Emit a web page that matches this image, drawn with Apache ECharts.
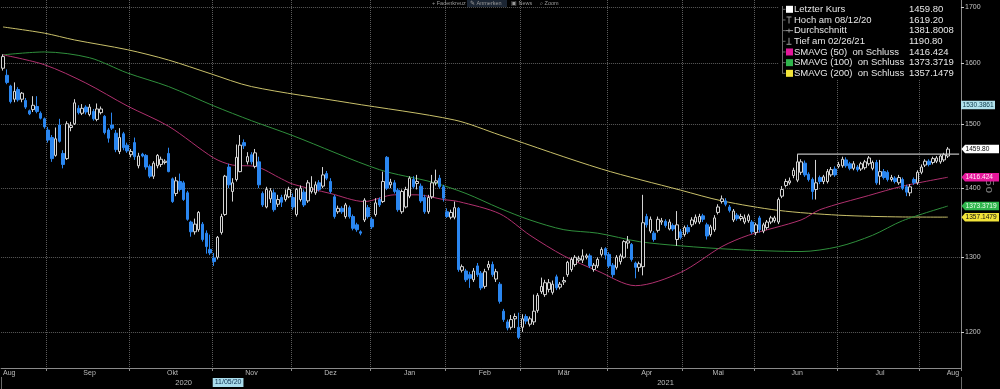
<!DOCTYPE html>
<html><head><meta charset="utf-8">
<script src="https://cdn.jsdelivr.net/npm/echarts@6/dist/echarts.min.js"></script>
<style>html,body{margin:0;padding:0;background:#000;}#c{width:1000px;height:389px;}</style>
</head><body><div id="c"></div>
<script>
// ---------- data ----------
const monthNames = ['Jan','Feb','Mär','Apr','Mai','Jun','Jul','Aug','Sep','Okt','Nov','Dez'];
const holidays = ['2020-08-31','2020-12-25','2020-12-28','2021-01-01','2021-04-02','2021-04-05','2021-05-03','2021-05-31'];
const startDate = [2020, 7, 13];
const categoryCount = 255;
const yTicks = [1200, 1300, 1400, 1500, 1600, 1700];

const opens = [
1592,1580,1562,1540,1556,1540,1538,1521,1523,1528,
1517,1508,1490,1478,1450,1498,1453,1445,1494,1500,
1525,1517,1527,1515,1520,1507,1518,1512,1490,1498,
1485,1456,1484,1466,1451,1470,1434,1452,1450,1433,
1418,1434,1436,1439,1453,1414,1392,1410,1408,1393,
1350,1336,1339,1347,1334,1311,1299,1300,1335,1361,
1432,1395,1413,1425,1470,1440,1451,1433,1440,1392,
1372,1384,1393,1376,1386,1383,1387,1386,1361,1383,
1394,1381,1395,1393,1408,1403,1422,1410,1387,1365,
1370,1358,1371,1358,1346,1336,1353,1371,1354,1361,
1383,1380,1447,1405,1408,1397,1365,1372,1388,1413,
1407,1403,1386,1365,1387,1408,1415,1402,1365,1357,
1357,1370,1282,1281,1276,1269,1288,1278,1260,1286,
1290,1270,1263,1227,1213,1206,1217,1206,1206,1220,
1210,1213,1228,1253,1249,1256,1252,1273,1259,1266,
1276,1283,1290,1296,1296,1300,1302,1283,1288,1304,
1312,1304,1289,1286,1294,1300,1320,1318,1292,1286,
1287,1358,1337,1334,1338,1350,1351,1340,1345,1325,
1336,1332,1342,1346,1350,1350,1359,1346,1332,1339,
1364,1380,1381,1372,1353,1360,1355,1350,1352,1350,
1335,1356,1337,1342,1350,1352,1350,1388,1404,1408,
1419,1412,1424,1438,1421,1413,1398,1416,1410,1410,
1420,1429,1433,1434,1443,1437,1430,1432,1429,1431,
1437,1430,1439,1418,1425,1424,1413,1415,1408,1413,
1402,1393,1413,1408,1424,1435,1441,1439,1441,1440,
1443,1449];
const closes = [
1612,1568,1536,1553,1539,1550,1527,1516,1530,1520,
1509,1495,1474,1445,1476,1472,1436,1500,1497,1534,
1518,1525,1519,1527,1508,1524,1524,1486,1477,1493,
1459,1478,1462,1457,1456,1448,1449,1449,1432,1418,
1438,1450,1444,1441,1425,1380,1411,1398,1383,1354,
1336,1347,1364,1325,1315,1306,1294,1328,1358,1418,
1405,1408,1447,1466,1465,1448,1440,1454,1405,1375,
1398,1396,1368,1383,1379,1390,1398,1372,1398,1400,
1375,1408,1401,1405,1398,1420,1415,1395,1358,1370,
1365,1375,1358,1341,1339,1334,1382,1358,1343,1378,
1375,1410,1400,1409,1395,1368,1395,1398,1415,1402,
1410,1381,1365,1386,1408,1411,1402,1385,1358,1364,
1371,1283,1287,1269,1271,1281,1276,1258,1280,1290,
1276,1280,1240,1216,1205,1216,1220,1193,1217,1214,
1217,1227,1248,1260,1265,1265,1263,1258,1263,1268,
1293,1297,1300,1298,1302,1302,1288,1289,1297,1311,
1303,1288,1276,1300,1302,1322,1323,1297,1286,1291,
1349,1346,1354,1325,1354,1352,1345,1350,1340,1346,
1328,1342,1336,1353,1357,1358,1354,1330,1343,1356,
1372,1384,1376,1367,1366,1355,1358,1356,1359,1336,
1346,1339,1346,1350,1356,1356,1383,1398,1410,1411,
1427,1440,1440,1420,1413,1395,1408,1410,1417,1425,
1428,1420,1436,1444,1434,1430,1437,1428,1437,1440,
1446,1439,1408,1425,1416,1413,1416,1410,1416,1400,
1394,1402,1408,1424,1432,1441,1436,1445,1446,1449,
1451,1459.8];
const lows = [
1588,1565,1533,1535,1536,1535,1524,1514,1519,1517,
1507,1492,1470,1440,1448,1470,1430,1443,1488,1498,
1515,1514,1515,1512,1505,1504,1515,1483,1470,1490,
1455,1452,1458,1454,1447,1443,1430,1447,1428,1415,
1414,1430,1432,1436,1424,1378,1388,1395,1381,1352,
1329,1332,1336,1322,1305,1303,1288,1297,1332,1359,
1400,1380,1410,1424,1460,1436,1436,1430,1400,1372,
1370,1378,1365,1372,1372,1380,1385,1368,1358,1380,
1372,1378,1392,1390,1395,1400,1412,1392,1355,1362,
1362,1355,1355,1338,1336,1331,1350,1355,1340,1358,
1372,1378,1397,1400,1392,1365,1362,1370,1385,1399,
1398,1378,1362,1362,1384,1404,1399,1380,1356,1354,
1354,1280,1279,1266,1258,1266,1273,1255,1257,1282,
1273,1266,1237,1213,1202,1203,1205,1190.8,1200,1210,
1207,1209,1225,1250,1246,1252,1249,1255,1256,1262,
1273,1280,1287,1293,1292,1297,1285,1280,1285,1301,
1297,1285,1272,1283,1290,1298,1312,1294,1271,1280,
1275,1342,1334,1322,1335,1346,1342,1338,1337,1316,
1325,1329,1333,1343,1347,1347,1350,1325,1329,1336,
1361,1377,1373,1364,1350,1352,1352,1347,1349,1333,
1331,1335,1334,1339,1347,1349,1347,1385,1401,1405,
1415,1409,1420,1417,1410,1383,1383,1406,1406,1407,
1417,1417,1430,1431,1431,1427,1427,1425,1426,1428,
1434,1427,1405,1405,1413,1410,1410,1407,1405,1397,
1388,1388,1405,1405,1421,1432,1433,1436,1438,1437,
1440,1446];
const highs = [
1616,1590,1564,1568,1560,1552,1542,1523,1545,1545,
1520,1510,1495,1482,1494,1508,1458,1504,1503,1540,
1530,1532,1530,1532,1524,1533,1528,1514,1493,1518,
1490,1493,1487,1470,1460,1478,1454,1454,1452,1436,
1441,1452,1448,1444,1462,1416,1417,1422,1411,1396,
1352,1355,1366,1350,1338,1332,1306,1330,1362,1420,
1437,1415,1467,1482,1475,1455,1455,1460,1448,1395,
1402,1400,1398,1390,1390,1398,1402,1392,1400,1404,
1398,1412,1418,1410,1412,1432,1426,1415,1390,1374,
1373,1378,1374,1361,1349,1338,1385,1375,1357,1385,
1386,1425,1449,1414,1412,1400,1398,1402,1418,1418,
1420,1407,1390,1390,1420,1428,1420,1405,1370,1368,
1380,1372,1290,1284,1280,1285,1292,1281,1284,1295,
1294,1284,1266,1230,1216,1222,1224,1225,1223,1223,
1220,1249,1251,1272,1269,1270,1268,1276,1266,1273,
1295,1300,1303,1302,1311,1305,1305,1292,1300,1314,
1314,1307,1292,1303,1305,1324,1330,1320,1294,1294,
1390,1362,1358,1337,1358,1356,1354,1354,1348,1366,
1340,1345,1346,1357,1361,1362,1362,1349,1346,1360,
1376,1389,1385,1375,1369,1363,1362,1361,1362,1353,
1349,1359,1349,1353,1359,1359,1386,1403,1414,1416,
1431,1452,1444,1442,1424,1416,1443,1419,1420,1429,
1432,1433,1440,1448,1447,1440,1441,1435,1440,1443,
1449,1442,1443,1443,1429,1427,1420,1418,1420,1416,
1405,1406,1416,1427,1436,1444,1444,1448,1449,1452,
1454,1463];

// moving averages: [bar index, value]
const sma50 = [[0,1615],[11,1598],[22,1567],[33,1529],[44,1496],[56,1446],[61,1435],[67,1433],[74,1414],[77,1406],[87,1392],[96,1380],[104,1390],[110,1390],[117,1383],[121,1380],[132,1362],[140,1331],[149,1302],[158,1281],[168,1261],[180,1279],[191,1315],[198,1331],[212,1353],[217,1368],[230,1389],[239,1403],[251,1416.424]];
const sma100 = [[0,1615],[11,1620],[23,1610],[33,1584],[44,1561],[56,1529],[66,1505],[77,1481],[100,1428],[114,1409],[123,1392],[132,1370],[140,1353],[149,1339],[158,1334],[169,1322],[180,1316],[194,1311],[212,1308],[222,1315],[231,1331],[239,1352],[251,1373.3719]];
const sma200 = [[0,1664],[11,1653],[19,1641],[33,1624],[44,1606],[55,1583],[66,1561],[92,1534],[120,1506],[132,1482],[159,1429],[180,1397],[191,1381],[206,1367],[222,1360],[239,1357.4],[251,1357.1479]];
const resistance = [[211,1452],[254,1452]];

const legendRows = [
  {label:'Letzter Kurs', value:'1459.80', icon:'square', color:'#ffffff'},
  {label:'Hoch am 08/12/20', value:'1619.20', icon:'high'},
  {label:'Durchschnitt', value:'1381.8008', icon:'avg'},
  {label:'Tief am 02/26/21', value:'1190.80', icon:'low'},
  {label:'SMAVG (50)  on Schluss', value:'1416.424', icon:'square', color:'#e4189b'},
  {label:'SMAVG (100)  on Schluss', value:'1373.3719', icon:'square', color:'#2fb54c'},
  {label:'SMAVG (200)  on Schluss', value:'1357.1479', icon:'square', color:'#f2e43a'}
];
const axisTags = [
  {value:1530.3861, text:'1530.3861', bg:'#b2e2ec', fg:'#0d3b4a', arrow:false},
  {value:1459.80, text:'1459.80', bg:'#ffffff', fg:'#000000', arrow:true},
  {value:1416.424, text:'1416.424', bg:'#e4189b', fg:'#ffe6f5', arrow:true},
  {value:1373.3719, text:'1373.3719', bg:'#2fb54c', fg:'#effff0', arrow:true},
  {value:1357.1479, text:'1357.1479', bg:'#f2e43a', fg:'#111111', arrow:true}
];
const crosshairDate = '2020-11-05';
const toolbarItems = ['+ Fadenkreuz', '✎ Anmerken', '▣ News', '⌕ Zoom'];

// ---------- categories ----------
function pad(n){return n<10?'0'+n:''+n;}
const dates = [];
(function(){
  const d = new Date(Date.UTC(startDate[0], startDate[1], startDate[2]));
  while (dates.length < categoryCount) {
    const wd = d.getUTCDay();
    const s = d.getUTCFullYear()+'-'+pad(d.getUTCMonth()+1)+'-'+pad(d.getUTCDate());
    if (wd !== 0 && wd !== 6 && holidays.indexOf(s) < 0) dates.push(s);
    d.setUTCDate(d.getUTCDate()+1);
  }
})();
const monthStart = new Set(), monthLabel = new Set(), yearStart = new Set(), yearLabel = new Set();
(function(){
  const groups = [], ygroups = [];
  dates.forEach((s,i)=>{
    const m = s.slice(0,7), y = s.slice(0,4);
    if (!groups.length || groups[groups.length-1].k !== m) groups.push({k:m, a:i, b:i}); else groups[groups.length-1].b = i;
    if (!ygroups.length || ygroups[ygroups.length-1].k !== y) ygroups.push({k:y, a:i, b:i}); else ygroups[ygroups.length-1].b = i;
  });
  groups.forEach(g=>{
    if (g.a > 0) monthStart.add(g.a);
    if (g.a === 0) monthLabel.add(0);
    else if (g.b === dates.length-1) monthLabel.add(g.b);
    else monthLabel.add(Math.ceil((g.a+g.b)/2));
  });
  ygroups.forEach(g=>{
    if (g.a > 0) yearStart.add(g.a);
    yearLabel.add(Math.floor((g.a+g.b)/2));
  });
})();

const candleData = opens.map((o,i)=>[o, closes[i], lows[i], highs[i]]);
const FONT = '"Liberation Sans", Arial, sans-serif';

const chart = echarts.init(document.getElementById('c'), null, {renderer:'canvas'});
const option = {
  backgroundColor:'#000',
  animation:false,
  grid:{left:-0.88, right:39, top:0, bottom:21, containLabel:false},
  xAxis:[{
    type:'category', data:dates, boundaryGap:true,
    axisLine:{show:true, lineStyle:{color:'#8a8a8a', width:1}},
    axisTick:{show:true, interval:(i)=>monthStart.has(i), length:3, lineStyle:{color:'#8a8a8a'}},
    axisLabel:{interval:(i)=>monthLabel.has(i), formatter:(v)=>monthNames[parseInt(v.slice(5,7),10)-1],
      color:'#bdbdbd', fontSize:7, fontFamily:FONT, margin:2, showMinLabel:true, showMaxLabel:true,
      alignMinLabel:'left', alignMaxLabel:'right', hideOverlap:false},
    splitLine:{show:true, interval:(i)=>monthStart.has(i), lineStyle:{color:'#5c5c5c', type:'dotted', width:1}}
  },{
    type:'category', data:dates, boundaryGap:true, position:'bottom', offset:9,
    axisLine:{show:false},
    axisTick:{show:true, interval:(i)=>yearStart.has(i), length:12, lineStyle:{color:'#6a6a6a'}},
    axisLabel:{interval:(i)=>yearLabel.has(i), formatter:(v)=>v.slice(0,4), color:'#bdbdbd', fontSize:7.5, fontFamily:FONT, margin:2, hideOverlap:false},
    splitLine:{show:false}
  }],
  yAxis:{
    type:'log', logBase:10, position:'right', min:1154.5, max:1712.8,
    axisLine:{show:true, lineStyle:{color:'#8a8a8a'}},
    axisTick:{show:true, length:3, lineStyle:{color:'#cfcfcf'}, customValues:yTicks},
    axisLabel:{color:'#c4c4c4', fontSize:7, fontFamily:FONT, margin:4, customValues:yTicks, formatter:(v)=>String(Math.round(v))},
    splitLine:{show:true, lineStyle:{color:'#5c5c5c', type:'dotted', width:1}}
  },
  series:[
    {type:'line', name:'SMA200', data:sma200, smooth:0.3, symbol:'none', lineStyle:{color:'#c9c06a', width:1}, z:2},
    {type:'line', name:'SMA100', data:sma100, smooth:0.3, symbol:'none', lineStyle:{color:'#2f8f3c', width:1}, z:2},
    {type:'line', name:'SMA50', data:sma50, smooth:0.3, symbol:'none', lineStyle:{color:'#b0306e', width:1}, z:2},
    {type:'candlestick', name:'Kurs', data:candleData, barWidth:3,
      itemStyle:{color:'#000000', color0:'#2a86f0', borderColor:'#d4d4d4', borderColor0:'#2a86f0', borderWidth:1}, z:3},
    {type:'line', name:'Linie', data:resistance, symbol:'none', lineStyle:{color:'#bdbdbd', width:1.2}, z:4}
  ]
};
chart.setOption(option);

// ---------- annotations ----------
const g = [];
// toolbar
const tbX = [432, 470, 511, 540];
g.push({type:'rect', shape:{x:467, y:0, width:40, height:7}, style:{fill:'#1b2533'}, z:10});
toolbarItems.forEach((t,k)=>{
  g.push({type:'text', x:tbX[k], y:3.5, style:{text:t, fill:'#9a9a9a', font:'5.5px '+FONT, verticalAlign:'middle'}, z:11});
});
// legend box
g.push({type:'rect', shape:{x:779, y:0, width:181, height:80}, style:{fill:'#000'}, z:10});
g.push({type:'line', shape:{x1:782.5, y1:6, x2:782.5, y2:73.5}, style:{stroke:'#6a6a6a', lineWidth:1}, z:11});
legendRows.forEach((r,k)=>{
  const y = 9.3 + k*10.67;
  g.push({type:'line', shape:{x1:782.5, y1:y, x2:785.5, y2:y}, style:{stroke:'#6a6a6a', lineWidth:1}, z:11});
  if (r.icon === 'square') {
    g.push({type:'rect', shape:{x:786, y:y-3.5, width:7, height:7}, style:{fill:r.color}, z:11});
  } else if (r.icon === 'high') {
    g.push({type:'line', shape:{x1:786.5, y1:y-3, x2:791.5, y2:y-3}, style:{stroke:'#9a9a9a', lineWidth:1}, z:11});
    g.push({type:'line', shape:{x1:789, y1:y-3, x2:789, y2:y+3.5}, style:{stroke:'#9a9a9a', lineWidth:1}, z:11});
  } else if (r.icon === 'avg') {
    g.push({type:'line', shape:{x1:785.5, y1:y, x2:793, y2:y}, style:{stroke:'#9a9a9a', lineWidth:1}, z:11});
    g.push({type:'line', shape:{x1:789, y1:y-2, x2:789, y2:y+2}, style:{stroke:'#9a9a9a', lineWidth:1}, z:11});
  } else if (r.icon === 'low') {
    g.push({type:'line', shape:{x1:789, y1:y-3.5, x2:789, y2:y+3}, style:{stroke:'#9a9a9a', lineWidth:1}, z:11});
    g.push({type:'line', shape:{x1:786.5, y1:y+3, x2:791.5, y2:y+3}, style:{stroke:'#9a9a9a', lineWidth:1}, z:11});
  }
  g.push({type:'text', x:794, y:y, style:{text:r.label, fill:'#e6e6e6', font:'9.5px '+FONT, verticalAlign:'middle'}, z:11});
  g.push({type:'text', x:909, y:y, style:{text:r.value, fill:'#e6e6e6', font:'9.5px '+FONT, verticalAlign:'middle'}, z:11});
});
// partially hidden rotated axis caption (drawn below the tags)
g.push({type:'text', x:989, y:186, rotation:-Math.PI/2, style:{text:'Бо', fill:'#7a7a7a', font:'11px "DejaVu Sans"', align:'center', verticalAlign:'middle'}, z:11});
// right-axis value tags
const xr = 961;
axisTags.forEach(t=>{
  const y = chart.convertToPixel({yAxisIndex:0}, t.value);
  const h = 8.5, w = t.arrow ? 38 : 34;
  const pts = t.arrow
    ? [[xr+0.5,y],[xr+4,y-h/2],[xr+w,y-h/2],[xr+w,y+h/2],[xr+4,y+h/2]]
    : [[xr,y-h/2],[xr+w,y-h/2],[xr+w,y+h/2],[xr,y+h/2]];
  g.push({type:'polygon', shape:{points:pts}, style:{fill:t.bg}, z:12});
  g.push({type:'text', x:xr+(t.arrow?4.5:1.5), y:y, style:{text:t.text, fill:t.fg, font:'6.6px '+FONT, verticalAlign:'middle'}, z:13});
});
// crosshair date label
const cx = chart.convertToPixel({xAxisIndex:0}, crosshairDate);
const p = crosshairDate.split('-');
g.push({type:'text', x:cx+3, y:382.5, style:{text:p[1]+'/'+p[2]+'/'+p[0].slice(2), fill:'#0b2d4d', font:'7px '+FONT,
  align:'center', verticalAlign:'middle', backgroundColor:'#a9dcec', padding:[1,2,1,2]}, z:12});
chart.setOption({graphic:g});
</script>
</body></html>
